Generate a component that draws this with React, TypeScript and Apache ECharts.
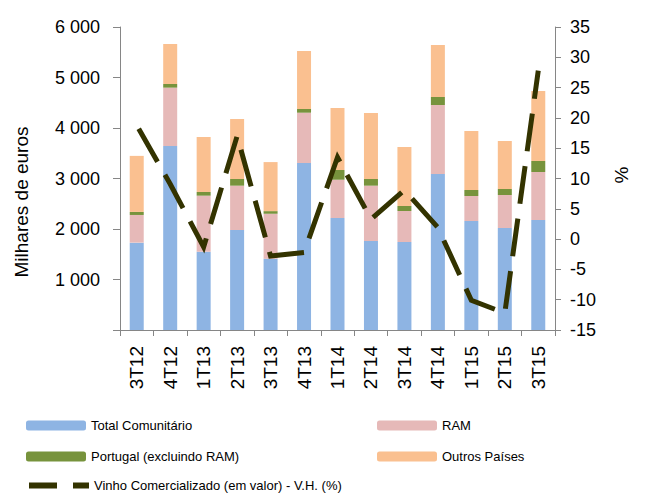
import React, { useEffect, useRef } from "react";
import * as echarts from "echarts";

const categories = ["3T12", "4T12", "1T13", "2T13", "3T13", "4T13", "1T14", "2T14", "3T14", "4T14", "1T15", "2T15", "3T15"];
const totalComunitario = [1730, 3644, 1550, 1980, 1410, 3307, 2218, 1762, 1743, 3089, 2158, 2020, 2178];
const ram = [548, 1155, 1110, 878, 892, 996, 758, 1096, 613, 1366, 495, 653, 951];
const portugal = [60, 72, 73, 132, 52, 73, 192, 132, 99, 159, 119, 119, 218];
const outrosPaises = [1110, 792, 1089, 1188, 971, 1149, 1228, 1307, 1169, 1030, 1169, 951, 1386];
const vinhoVH = [18.8, 9.1, -1.3, 17, -2.8, -2.2, 13.5, 3.3, 8.1, 1.9, -10.1, -12.2, 27.8];

const FONT = "Liberation Sans, Arial, sans-serif";
const AXIS_COLOR = "#868686";
const LINE_COLOR = "#333300";

export default function App() {
  const ref = useRef<HTMLDivElement>(null);
  useEffect(() => {
    if (!ref.current) return;
    document.body.style.margin = "0";
    const chart = echarts.init(ref.current, null, { renderer: "svg" });
    const barBase = { type: "bar", stack: "total", barWidth: 14, yAxisIndex: 0 };
    const legendBase = {
      orient: "horizontal",
      itemWidth: 60,
      itemHeight: 10,
      itemGap: 0,
      padding: 0,
      textStyle: { fontFamily: FONT, fontSize: 13, color: "#000" },
      selectedMode: false,
    };
    chart.setOption({
      animation: false,
      textStyle: { fontFamily: FONT },
      grid: { left: 120, right: 114, top: 27, height: 303, containLabel: false },
      legend: [
        { ...legendBase, left: 26, top: 419, data: ["Total Comunitário"] },
        { ...legendBase, left: 377, top: 419, data: ["RAM"] },
        { ...legendBase, left: 26, top: 450, data: ["Portugal (excluindo RAM)"] },
        { ...legendBase, left: 377, top: 450, data: ["Outros Países"] },
        {
          ...legendBase,
          left: 26,
          top: 479,
          data: ["Vinho Comercializado (em valor) - V.H. (%)"],
          itemStyle: { opacity: 0 },
          lineStyle: { width: 6, type: [28, 16], color: LINE_COLOR, cap: "butt", dashOffset: 0 },
        },
      ],
      xAxis: {
        type: "category",
        data: categories,
        boundaryGap: true,
        axisLine: { onZero: false, lineStyle: { color: AXIS_COLOR, width: 1 } },
        axisTick: { show: true, length: 6, lineStyle: { color: AXIS_COLOR } },
        axisLabel: { rotate: 90, fontSize: 19, color: "#000", fontFamily: FONT, margin: 16 },
        splitLine: { show: false },
      },
      yAxis: [
        {
          type: "value",
          min: 0,
          max: 6000,
          interval: 1000,
          axisLine: { show: true, lineStyle: { color: AXIS_COLOR } },
          axisTick: { show: true, length: 7, lineStyle: { color: AXIS_COLOR } },
          axisLabel: {
            fontSize: 18,
            color: "#000",
            fontFamily: FONT,
            margin: 20,
            formatter: (v: number) => (v === 0 ? "" : String(v).replace(/\B(?=(\d{3})+(?!\d))/g, " ")),
          },
          splitLine: { show: false },
        },
        {
          type: "value",
          min: -15,
          max: 35,
          interval: 5,
          position: "right",
          axisLine: { show: true, lineStyle: { color: AXIS_COLOR } },
          axisTick: { show: true, length: 6, lineStyle: { color: AXIS_COLOR } },
          axisLabel: { fontSize: 18, color: "#000", fontFamily: FONT, margin: 15 },
          splitLine: { show: false },
        },
      ],
      graphic: [
        {
          type: "text",
          x: 21,
          y: 202,
          rotation: Math.PI / 2,
          style: { text: "Milhares de euros", fontSize: 19, fontFamily: FONT, fill: "#000", align: "center", verticalAlign: "middle" },
        },
        {
          type: "text",
          x: 621,
          y: 175,
          rotation: Math.PI / 2,
          style: { text: "%", fontSize: 19, fontFamily: FONT, fill: "#000", align: "center", verticalAlign: "middle" },
        },
      ],
      series: [
        { ...barBase, name: "Total Comunitário", data: totalComunitario, itemStyle: { color: "#8EB4E3" } },
        { ...barBase, name: "RAM", data: ram, itemStyle: { color: "#E6B9B8" } },
        { ...barBase, name: "Portugal (excluindo RAM)", data: portugal, itemStyle: { color: "#77933C" } },
        { ...barBase, name: "Outros Países", data: outrosPaises, itemStyle: { color: "#FAC090" } },
        {
          type: "line",
          name: "Vinho Comercializado (em valor) - V.H. (%)",
          yAxisIndex: 1,
          data: vinhoVH,
          symbol: "none",
          lineStyle: { color: LINE_COLOR, width: 5, type: [38, 15], dashOffset: 49, cap: "butt", join: "miter" },
          itemStyle: { color: LINE_COLOR },
          z: 5,
        },
      ],
    });
    return () => chart.dispose();
  }, []);
  return <div ref={ref} style={{ width: 669, height: 496 }} />;
}
